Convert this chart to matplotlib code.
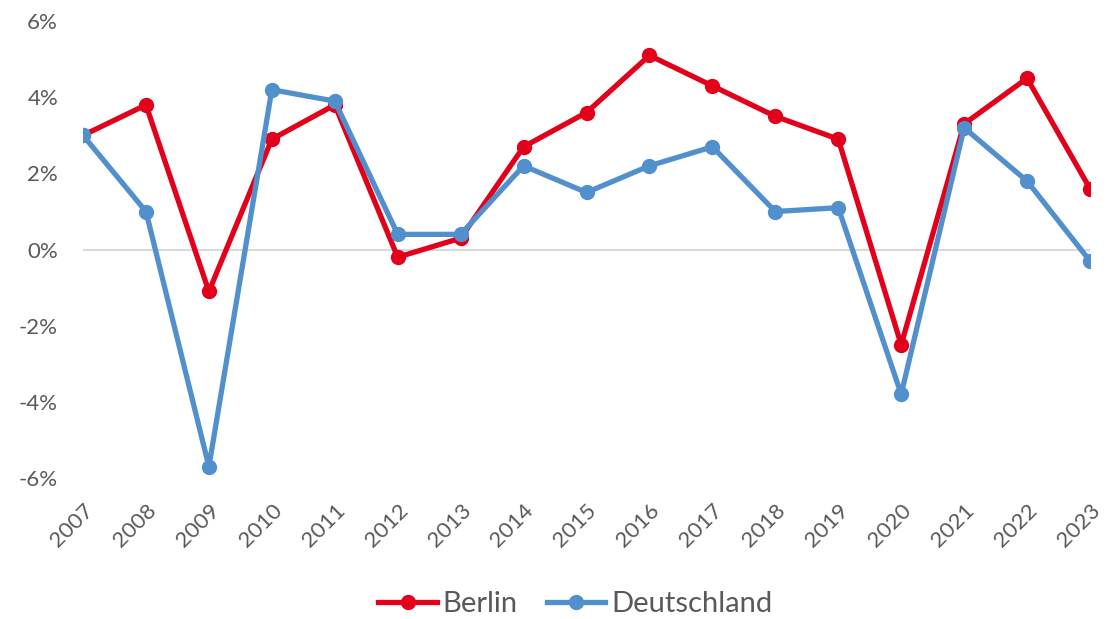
import numpy as np
import matplotlib.pyplot as plt
from matplotlib.ticker import FuncFormatter

years = list(range(2007, 2024))
berlin = [3.0, 3.8, -1.1, 2.9, 3.8, -0.2, 0.3, 2.7, 3.6, 5.1, 4.3, 3.5, 2.9, -2.5, 3.3, 4.5, 1.6]
deutschland = [3.0, 1.0, -5.7, 4.2, 3.9, 0.4, 0.4, 2.2, 1.5, 2.2, 2.7, 1.0, 1.1, -3.8, 3.2, 1.8, -0.3]

red = '#e3001b'
blue = '#5190cd'
grey = '#595959'

plt.rcParams['font.family'] = ['Lato', 'DejaVu Sans']

fig = plt.figure(figsize=(11.16, 6.19), dpi=100)
ax = fig.add_axes([0.0744, 0.2278, 0.9023, 0.738])

ax.axhline(0, color='#d9d9d9', lw=1.5, zorder=1)
ax.plot(years, berlin, color=red, lw=3.8, marker='o', ms=10, label='Berlin', zorder=3)
ax.plot(years, deutschland, color=blue, lw=3.8, marker='o', ms=10, label='Deutschland', zorder=4)

ax.set_xlim(2007, 2023)
ax.set_ylim(-6, 6)
ax.set_yticks(np.arange(-6, 7, 2))
ax.yaxis.set_major_formatter(FuncFormatter(lambda v, p: f'{v:.0f}%'))
ax.set_xticks(years)
ax.set_xticklabels([str(y) for y in years], rotation=45, ha='right', rotation_mode='anchor')

for s in ax.spines.values():
    s.set_visible(False)
ax.tick_params(axis='both', length=0, colors=grey, labelsize=16)
ax.tick_params(axis='y', pad=18)
ax.tick_params(axis='x', pad=16)

leg = ax.legend(loc='center', bbox_to_anchor=(0.489, -0.276), ncol=2, frameon=False,
                fontsize=21, handlelength=2.0, handletextpad=0.2, columnspacing=1.0,
                labelcolor=grey)

fig.savefig('out.png', dpi=100)
